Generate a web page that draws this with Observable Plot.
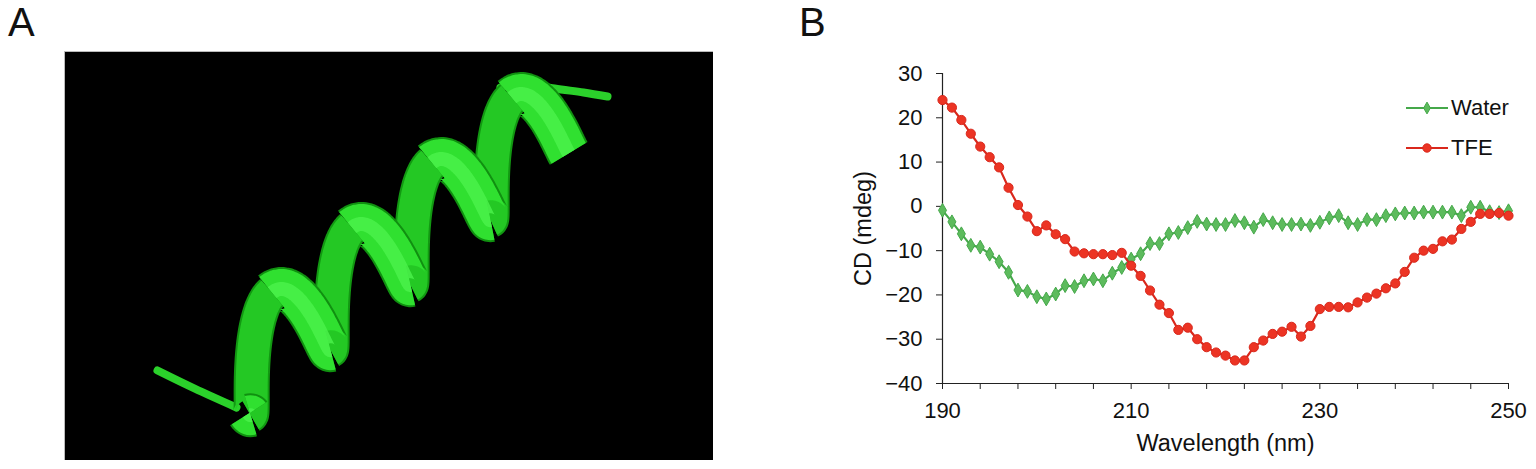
<!DOCTYPE html>
<html>
<head>
<meta charset="utf-8">
<script src="https://cdn.jsdelivr.net/npm/d3@7"></script>
<script src="https://cdn.jsdelivr.net/npm/@observablehq/plot@0.6"></script>
<style>
  html, body { margin: 0; padding: 0; background: #fff; }
  #wrap { position: relative; width: 1536px; height: 469px; overflow: hidden; font-family: "Liberation Sans", Arial, sans-serif; }
  .panel-letter { position: absolute; font-size: 40px; line-height: 40px; color: #111; }
  #panelA { position: absolute; left: 64px; top: 51px; }
  #panelB { position: absolute; left: 830px; top: 0px; }
  #legend { position: absolute; left: 1405px; top: 88px; font-size: 22px; color: #111; }
  #legend .row { display: flex; align-items: center; height: 40px; }
  #legend svg { margin-right: 2px; }
</style>
</head>
<body>
<div id="wrap">
  <div class="panel-letter" style="left:8px; top:2px;">A</div>
  <div class="panel-letter" style="left:799px; top:2px;">B</div>
  <div id="panelA"></div>
  <div id="panelB"></div>
  <div id="legend"></div>
</div>
<script>
// ---------- Panel B data ----------
const wavelength = [190,191,192,193,194,195,196,197,198,199,200,201,202,203,204,205,206,207,208,209,
  210,211,212,213,214,215,216,217,218,219,220,221,222,223,224,225,226,227,228,229,
  230,231,232,233,234,235,236,237,238,239,240,241,242,243,244,245,246,247,248,249,250];
const water = [-0.9,-3.5,-6.2,-8.8,-9.2,-10.8,-12.5,-14.9,-18.9,-19.2,-20.4,-20.9,-19.8,-17.9,-18.1,-16.8,-16.4,-16.8,-15.1,-13.8,
  -11.9,-10.7,-8.4,-8.4,-6.2,-5.9,-4.8,-3.4,-4.0,-4.1,-4.1,-3.2,-3.7,-4.7,-3.0,-3.7,-4.1,-4.1,-4.0,-4.3,
  -3.6,-2.6,-2.1,-3.7,-4.1,-3.0,-3.0,-2.1,-1.7,-1.5,-1.5,-1.3,-1.3,-1.3,-1.3,-2.1,-0.2,-0.2,-1.2,-1.4,-1.0];
const tfe = [24.0,22.3,19.5,16.4,13.5,11.1,8.8,4.2,0.3,-2.3,-5.6,-4.3,-6.3,-7.4,-10.2,-10.6,-10.8,-10.8,-11.0,-10.5,
  -13.4,-15.7,-19.0,-22.2,-24.1,-27.9,-27.4,-30.0,-31.8,-33.0,-33.7,-34.8,-34.8,-31.8,-30.3,-28.8,-28.3,-27.2,-29.4,-27.0,
  -23.2,-22.7,-22.7,-22.8,-21.7,-20.6,-19.7,-18.5,-17.4,-14.8,-11.6,-10.0,-9.6,-7.9,-7.5,-5.1,-3.5,-1.7,-1.7,-1.5,-2.1];
const seriesNames = ["Water", "TFE"];
const xTicks = [190,194,198,202,206,210,214,218,222,226,230,234,238,242,246,250];
const xTickLabels = [190,210,230,250];
const yTicks = [-40,-30,-20,-10,0,10,20,30];

// ---------- Panel A illustration parameters (decorative helix, panel px) ----------
const helixAxisPoint = [217, 286];   // axis point at first crest
const helixPitch = [80, -65];        // axis advance per turn
const helixNormal = [0.2, 0.98];
const helixAxisDir = [0.78, -0.63];
const helixRadius = 46;
const helixTilt = -0.25;
const helixThetaStart = -0.35;
const helixThetaEnd = 8 * Math.PI - 0.35;
const tailBottom = [[93,319],[130,337],[172,356]];
const tailTop = [[436,36],[455,31],[490,37],[519,41],[543,45]];

const colWater = "#45a84a", colWaterDot = "#5dbb5d";
const colTfe = "#d9281c", colTfeDot = "#ec3424";

// ---------- Panel A ----------
(function () {
  const W = 649, H = 409;
  const pts = [];
  let seg = 0, prevFront = null;
  for (let th = helixThetaStart; th <= helixThetaEnd + 1e-9; th += 0.04) {
    const k = (th - Math.PI) / (2 * Math.PI);
    const c = Math.cos(th), s = Math.sin(th);
    const x = helixAxisPoint[0] + k * helixPitch[0] + helixRadius * c * helixNormal[0] + helixRadius * helixTilt * s * helixAxisDir[0];
    const y = helixAxisPoint[1] + k * helixPitch[1] + helixRadius * c * helixNormal[1] + helixRadius * helixTilt * s * helixAxisDir[1];
    const front = s < 0;
    if (prevFront !== null && front !== prevFront) {
      const last = pts[pts.length - 1];
      seg++;
      pts.push({x: last.x, y: last.y, seg, front});
    }
    pts.push({x, y, seg, front});
    prevFront = front;
  }
  const back = pts.filter(d => !d.front), fr = pts.filter(d => d.front);
  const tails = [
    ...tailBottom.map(([x, y]) => ({x, y, t: "b"})),
    ...tailTop.map(([x, y]) => ({x, y, t: "t"}))
  ];
  const lineOpts = (extra) => Object.assign({x: "x", y: "y", z: "seg", strokeLinecap: "butt", curve: "catmull-rom"}, extra);
  const chart = Plot.plot({
    width: W, height: H,
    margin: 0,
    x: {domain: [0, W], range: [0, W], axis: null},
    y: {domain: [0, H], range: [0, H], axis: null},
    style: {background: "#000"},
    marks: [
      Plot.frame({fill: "#000", stroke: "#bbb", strokeWidth: 1}),
      Plot.line(tails, {x: "x", y: "y", z: "t", stroke: "#2bd12b", strokeWidth: 8, strokeLinecap: "round", curve: "catmull-rom"}),
      Plot.line(back, lineOpts({stroke: "#129812", strokeWidth: 36})),
      Plot.line(back, lineOpts({stroke: "#24c824", strokeWidth: 32})),
      Plot.line(fr, lineOpts({stroke: "#109010", strokeWidth: 44})),
      Plot.line(fr, lineOpts({stroke: "#30e030", strokeWidth: 40})),
      Plot.line(fr, lineOpts({stroke: "#4cf34c", strokeWidth: 14, strokeOpacity: 0.8}))
    ]
  });
  document.getElementById("panelA").append(chart);
})();

// ---------- Panel B ----------
(function () {
  const rowsW = wavelength.map((w, i) => ({w, v: water[i]}));
  const rowsT = wavelength.map((w, i) => ({w, v: tfe[i]}));
  const chart = Plot.plot({
    width: 706, height: 469,
    marginLeft: 112, marginRight: 28, marginTop: 73, marginBottom: 86,
    style: {fontFamily: "'Liberation Sans', Arial, sans-serif", fontSize: "22px", color: "#111", background: "transparent", overflow: "visible"},
    x: {domain: [190, 250]},
    y: {domain: [-40, 30]},
    marks: [
      Plot.axisY({ticks: yTicks, tickSize: 6, tickPadding: 14, stroke: "#222", fontSize: 22, label: null}),
      Plot.axisY({ticks: [], fontSize: 23.5, label: "CD (mdeg)", labelAnchor: "center", labelArrow: "none", labelOffset: 88}),
      Plot.axisX({ticks: xTicks, tickSize: 6, tickPadding: 13, stroke: "#222", fontSize: 22,
        tickFormat: d => xTickLabels.includes(d) ? String(d) : "", label: null}),
      Plot.axisX({ticks: [], fontSize: 23.5, label: "Wavelength (nm)", labelAnchor: "center", labelArrow: "none", labelOffset: 67}),
      Plot.ruleX([190], {stroke: "#222", strokeWidth: 1.2}),
      Plot.ruleY([-40], {stroke: "#222", strokeWidth: 1.2}),
      Plot.line(rowsW, {x: "w", y: "v", stroke: colWater, strokeWidth: 2.2}),
      Plot.dot(rowsW, {x: "w", y: "v", symbol: "diamond", r: 4.2, fill: colWaterDot, stroke: colWater, strokeWidth: 1}),
      Plot.line(rowsT, {x: "w", y: "v", stroke: colTfe, strokeWidth: 2.2}),
      Plot.dot(rowsT, {x: "w", y: "v", r: 4.6, fill: colTfeDot, stroke: colTfe, strokeWidth: 1})
    ]
  });
  document.getElementById("panelB").append(chart);
})();

// ---------- Legend ----------
(function () {
  const legend = d3.select("#legend");
  const items = [
    {name: seriesNames[0], line: colWater, fill: colWaterDot, symbol: d3.symbolDiamond, size: 40},
    {name: seriesNames[1], line: colTfe, fill: colTfeDot, symbol: d3.symbolCircle, size: 55}
  ];
  for (const it of items) {
    const row = legend.append("div").attr("class", "row");
    const svg = row.append("svg").attr("width", 44).attr("height", 14);
    svg.append("line").attr("x1", 1).attr("x2", 43).attr("y1", 7).attr("y2", 7)
      .attr("stroke", it.line).attr("stroke-width", 2.2);
    svg.append("path").attr("d", d3.symbol(it.symbol, it.size)()).attr("transform", "translate(22,7)")
      .attr("fill", it.fill).attr("stroke", it.line);
    row.append("span").text(it.name);
  }
})();
</script>
</body>
</html>
